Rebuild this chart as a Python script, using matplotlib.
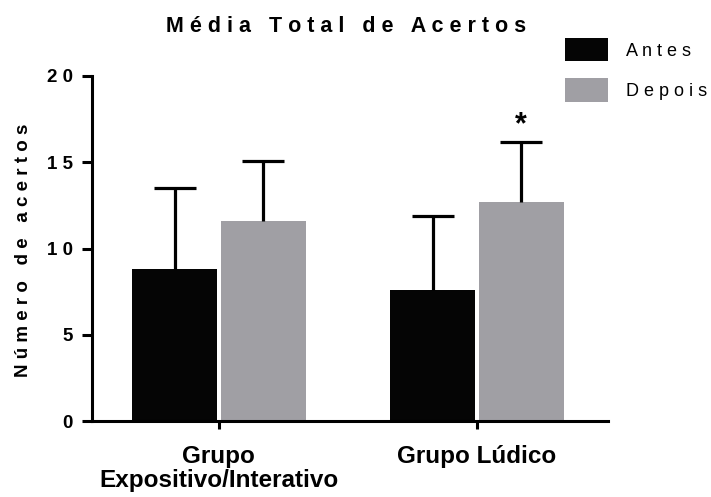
import matplotlib
matplotlib.use("Agg")
import matplotlib.pyplot as plt
from matplotlib.patches import Patch
from matplotlib.ticker import FuncFormatter

plt.rcParams['font.family'] = ['Liberation Sans', 'DejaVu Sans']

#Chart data
groups = ["Grupo\nExpositivo/Interativo", "Grupo Lúdico"]
antes = [8.8, 7.6]
antes_err = [4.7, 4.3]
depois = [11.6, 12.7]
depois_err = [3.5, 3.5]
series_names = ["Antes", "Depois"]

black = "#050505"
grey = "#a09fa4"


def spaced(s):
    #mimic the wide letter spacing of the original
    return " ".join(s)


fig = plt.figure(figsize=(7.11, 4.97), dpi=100)
ax = fig.add_axes([92 / 711, 76 / 497, 516 / 711, 345 / 497])

x = range(len(groups))
offset = 0.172
width = 0.328
xa = [i - offset for i in x]
xd = [i + offset for i in x]

ax.bar(xa, antes, width, color=black, zorder=2)
ax.bar(xd, depois, width, color=grey, zorder=2)

#only the upper half of the error bars is shown
for xs, vals, errs in [(xa, antes, antes_err), (xd, depois, depois_err)]:
    eb = ax.errorbar(xs, vals, yerr=[[0] * len(vals), errs], fmt="none",
                     ecolor="black", elinewidth=2.3, capsize=15, capthick=2.3, zorder=3)
    eb[1][0].set_visible(False)  # hide the lower caps

#significance marker
ax.text(xd[1], depois[1] + depois_err[1] + 0.1, "*", ha="center", va="bottom",
        fontsize=22, fontweight="bold")

ax.set_xlim(-0.492, 1.508)
ax.set_ylim(0, 20)
ax.set_yticks([0, 5, 10, 15, 20])
ax.yaxis.set_major_formatter(FuncFormatter(lambda v, p: spaced(str(int(v)))))
ax.set_xticks(list(x))
ax.set_xticklabels(groups, fontsize=17.5, fontweight="bold", linespacing=1.05)

for side in ["top", "right"]:
    ax.spines[side].set_visible(False)
for side in ["left", "bottom"]:
    ax.spines[side].set_linewidth(2.2)

ax.tick_params(axis="y", length=7, width=2.2, pad=7, labelsize=13.5)
ax.tick_params(axis="x", length=6, width=2.2, pad=11)
for lbl in ax.get_yticklabels():
    lbl.set_fontweight("bold")

fig.text(346 / 711, 1 - 26 / 497, spaced("Média Total de Acertos"), ha="center", va="center",
         fontsize=15.5, fontweight="bold")
fig.text(24 / 711, 1 - 250 / 497, spaced("Número de acertos"), ha="center", va="center",
         rotation=90, fontsize=13.5, fontweight="bold")

handles = [Patch(facecolor=black), Patch(facecolor=grey)]
ax.legend(handles, [spaced(n) for n in series_names], loc="upper left",
          bbox_to_anchor=(565 / 711, 1 - 38 / 497), bbox_transform=fig.transFigure,
          frameon=False, fontsize=13, handlelength=2.4, handleheight=1.6,
          handletextpad=1.0, labelspacing=0.95, borderpad=0, borderaxespad=0)

fig.savefig("out.png", dpi=100)
